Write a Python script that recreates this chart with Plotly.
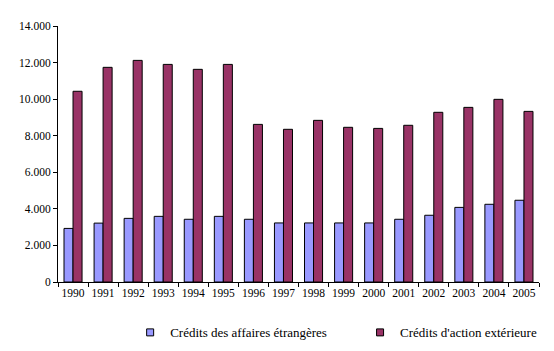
import plotly.graph_objects as go

years = ["1990", "1991", "1992", "1993", "1994", "1995", "1996", "1997",
         "1998", "1999", "2000", "2001", "2002", "2003", "2004", "2005"]
affaires_etrangeres = [2930, 3220, 3480, 3590, 3430, 3590, 3430, 3230,
                       3230, 3230, 3230, 3430, 3650, 4080, 4250, 4470]
action_exterieure = [10430, 11740, 12120, 11900, 11630, 11900, 8620, 8350,
                     8840, 8460, 8400, 8570, 9280, 9550, 9990, 9330]
series_names = ["Crédits des affaires étrangères", "Crédits d'action extérieure"]
series_colors = ["#9999FF", "#993366"]

FAM = "Liberation Serif"
font = dict(family=FAM, size=11.5, color="black")
legfont = dict(family=FAM, size=13, color="black")

fig = go.Figure()
for vals, name, col, leg in zip([affaires_etrangeres, action_exterieure],
                                series_names, series_colors, ["legend", "legend2"]):
    fig.add_trace(go.Bar(
        x=years, y=vals, name=name, showlegend=False,
        marker=dict(color=col, line=dict(color="black", width=1)),
    ))
    # legend-only entry with a small square swatch
    fig.add_trace(go.Scatter(
        x=[None], y=[None], mode="markers", name=name, legend=leg,
        marker=dict(symbol="square", size=7, color=col, line=dict(color="black", width=1)),
    ))

fig.update_layout(
    width=554, height=351,
    margin=dict(l=58, r=15, t=26, b=69, autoexpand=False),
    paper_bgcolor="white", plot_bgcolor="white",
    barmode="group", bargap=0.4, bargroupgap=0,
    separators=",.",
    font=font,
    legend=dict(x=0.150, y=-0.197, xanchor="left", yanchor="middle",
                font=legfont, itemwidth=30, bgcolor="rgba(0,0,0,0)"),
    legend2=dict(x=0.628, y=-0.197, xanchor="left", yanchor="middle",
                 font=legfont, itemwidth=30, bgcolor="rgba(0,0,0,0)"),
)
fig.update_xaxes(
    showline=True, linecolor="black", linewidth=1,
    ticks="outside", ticklen=4, tickcolor="black", tickson="boundaries",
    showgrid=False, tickfont=font, tickangle=0, automargin=False,
)
fig.update_yaxes(
    range=[0, 14000], dtick=2000, tickformat=",.0f",
    showline=True, linecolor="black", linewidth=1,
    ticks="outside", ticklen=4, tickcolor="black",
    showgrid=False, zeroline=False, tickfont=font, automargin=False,
)

fig.write_html("out.html")
